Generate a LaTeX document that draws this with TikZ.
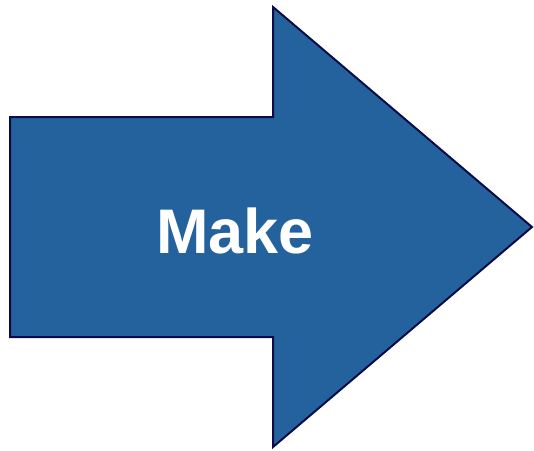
\documentclass[tikz,border=0pt]{standalone}
\usepackage{fontspec}
\setmainfont{Liberation Sans}
\definecolor{arrowfill}{HTML}{24629E}
\definecolor{arrowline}{HTML}{0B0B4A}
\tikzset{bigarrow/.style={fill=arrowfill,draw=arrowline,line width=2pt,line join=miter},
 label/.style={text=white,font=\fontsize{63}{70}\selectfont\bfseries,inner sep=0pt}}
\begin{document}
\begin{tikzpicture}[x=1pt,y=-1pt]
\useasboundingbox (0,0) rectangle (534,450);
\draw[bigarrow] (10,117) -- (273,117) -- (273,7) -- (532,227) -- (273,447) -- (273,337) -- (10,337) -- cycle;
\node[label] (t) at (235,231) {Make};
\end{tikzpicture}
\end{document}
